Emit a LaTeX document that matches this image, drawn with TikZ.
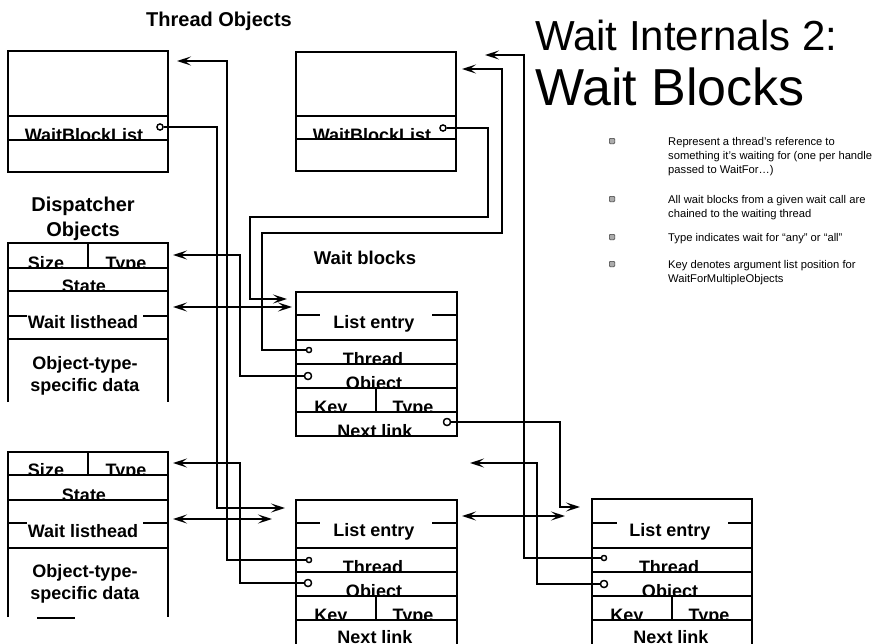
\documentclass[tikz,border=0pt]{standalone}
\usepackage{fontspec}
\setmainfont{Liberation Sans}
\usetikzlibrary{arrows.meta}
\tikzset{
  boxline/.style={line width=1.6pt},
  conn/.style={line width=1.5pt},
  tipA/.tip={Stealth[length=14pt,width=9pt,inset=6pt]},
  arr/.style={conn,-tipA},
  darr/.style={conn,tipA-tipA},
  port/.style={circle,draw,line width=1.3pt,fill=white,inner sep=0pt,minimum size=5pt},
  bigport/.style={port,minimum size=7pt},
  ftext/.style={font=\fontsize{18}{20}\selectfont\bfseries,inner sep=0pt,anchor=base},
  head/.style={font=\fontsize{20}{22}\selectfont\bfseries,inner sep=0pt,anchor=base},
  titletext/.style={inner sep=0pt,anchor=base west},
  btext/.style={font=\fontsize{11.2}{13}\selectfont,inner sep=0pt,anchor=base west},
  bul/.style={rectangle,rounded corners=1pt,fill=gray!65,draw=gray!45!black,line width=0.5pt,minimum size=5.5pt,inner sep=0pt},
}
% name, x, baseline y, clip bottom y, text
\newcommand\fld[5]{\begin{scope}\clip (0,0) rectangle (876,#4);\node[ftext] (#1) at (#2,#3) {#5};\end{scope}}
\begin{document}
\begin{tikzpicture}[x=1pt,y=-1pt]
\useasboundingbox (0,0) rectangle (876,643);

% ---------- headings ----------
\node[head] (hthr) at (219,26) {Thread Objects};
\node[head] (hdisp1) at (83,211) {Dispatcher};
\node[head] (hdisp2) at (83,236) {Objects};
\node[head,font=\fontsize{18.5}{20}\selectfont\bfseries] (hwb) at (365,264) {Wait blocks};

% ---------- title & bullets ----------
\node[titletext,font=\fontsize{42}{46}\selectfont] (title1) at (535,50) {Wait Internals 2:};
\node[titletext,font=\fontsize{52}{56}\selectfont] (title2) at (535,105) {Wait Blocks};
\node[bul] (b1) at (612,141) {};
\node[bul] (b2) at (612,199) {};
\node[bul] (b3) at (612,237) {};
\node[bul] (b4) at (612,264) {};
\node[btext] (l1a) at (668,145) {Represent a thread’s reference to};
\node[btext] (l1b) at (668,159) {something it’s waiting for (one per handle};
\node[btext] (l1c) at (668,173) {passed to WaitFor…)};
\node[btext] (l2a) at (668,203) {All wait blocks from a given wait call are};
\node[btext] (l2b) at (668,217) {chained to the waiting thread};
\node[btext] (l3a) at (668,241) {Type indicates wait for “any” or “all”};
\node[btext] (l4a) at (668,268) {Key denotes argument list position for};
\node[btext] (l4b) at (668,282) {WaitForMultipleObjects};

% ---------- field texts ----------
\fld{t1wbl}{84}{141}{140}{WaitBlockList}
\fld{t2wbl}{372}{141}{139}{WaitBlockList}

\fld{d1size}{46}{269}{268}{Size}
\fld{d1type}{126}{269}{268}{Type}
\fld{d1state}{84}{292}{291}{State}
\fld{d1wl}{83}{328}{339}{Wait listhead}
\fld{d1o1}{85}{369}{402}{Object-type-}
\fld{d1o2}{85}{391}{402}{specific data}

\fld{d2size}{46}{476}{475}{Size}
\fld{d2type}{126}{476}{475}{Type}
\fld{d2state}{84}{501}{500}{State}
\fld{d2wl}{83}{537}{548}{Wait listhead}
\fld{d2o1}{85}{577}{617}{Object-type-}
\fld{d2o2}{85}{599}{617}{specific data}

\fld{w1le}{374}{328}{340}{List entry}
\fld{w1th}{373}{365}{364}{Thread}
\fld{w1ob}{374}{389}{388}{Object}
\fld{w1key}{331}{413}{412}{Key}
\fld{w1typ}{413}{413}{412}{Type}
\fld{w1nl}{375}{437}{436}{Next link}

\fld{w2le}{374}{536}{548}{List entry}
\fld{w2th}{373}{573}{572}{Thread}
\fld{w2ob}{374}{597}{596}{Object}
\fld{w2key}{331}{621}{620}{Key}
\fld{w2typ}{413}{621}{620}{Type}
\fld{w2nl}{375}{643}{644}{Next link}

\fld{w3le}{670}{536}{548}{List entry}
\fld{w3th}{669}{573}{572}{Thread}
\fld{w3ob}{670}{597}{596}{Object}
\fld{w3key}{627}{621}{620}{Key}
\fld{w3typ}{709}{621}{620}{Type}
\fld{w3nl}{671}{643}{644}{Next link}

% ---------- thread objects ----------
\draw[boxline] (8,51) rectangle (168,172);
\draw[boxline] (8,116) -- (168,116) (8,140) -- (168,140);
\draw[boxline] (296,52) rectangle (456,171);
\draw[boxline] (296,116) -- (456,116) (296,139) -- (456,139);

% ---------- dispatcher objects ----------
\draw[boxline] (8,402) -- (8,243) -- (168,243) -- (168,402);
\draw[boxline] (8,268) -- (168,268) (88,243) -- (88,268)
               (8,291) -- (168,291)
               (8,316) -- (27,316) (143,316) -- (168,316)
               (8,339) -- (168,339);
\draw[boxline] (8,617) -- (8,452) -- (168,452) -- (168,617);
\draw[boxline] (8,475) -- (168,475) (88,452) -- (88,475)
               (8,500) -- (168,500)
               (8,523) -- (27,523) (143,523) -- (168,523)
               (8,548) -- (168,548);
\draw[boxline] (37,618) -- (75,618);

% ---------- wait blocks ----------
\draw[boxline] (296,292) rectangle (457,436);
\draw[boxline] (296,315) -- (320,315) (432,315) -- (457,315)
               (296,340) -- (457,340) (296,364) -- (457,364)
               (296,388) -- (457,388) (296,412) -- (457,412)
               (376,388) -- (376,412);
\draw[boxline] (296,648) -- (296,500) -- (457,500) -- (457,648);
\draw[boxline] (296,523) -- (320,523) (432,523) -- (457,523)
               (296,548) -- (457,548) (296,572) -- (457,572)
               (296,596) -- (457,596) (296,620) -- (457,620)
               (376,596) -- (376,620);
\draw[boxline] (592,648) -- (592,499) -- (752,499) -- (752,648);
\draw[boxline] (592,523) -- (617,523) (728,523) -- (752,523)
               (592,548) -- (752,548) (592,572) -- (752,572)
               (592,596) -- (752,596) (592,620) -- (752,620)
               (672,596) -- (672,620);

% ---------- ports ----------
\node[port,minimum size=6pt] (pt1) at (160,127) {};
\node[port,minimum size=6pt] (pt2) at (443,128) {};
\node[port] (pw1t) at (309,350) {};
\node[bigport] (pw1o) at (308,376) {};
\node[bigport] (pw1n) at (447,422) {};
\node[port] (pw2t) at (309,560) {};
\node[bigport] (pw2o) at (308,583) {};
\node[port] (pw3t) at (604,558) {};
\node[bigport] (pw3o) at (604,584) {};

% ---------- arrow ends ----------
\coordinate (e1) at (285,508);
\coordinate (e2) at (177,61);
\coordinate (e3) at (287,299);
\coordinate (e4) at (462,69);
\coordinate (e5) at (173,255);
\coordinate (e6a) at (173,307);
\coordinate (e6b) at (292,307);
\coordinate (e7) at (580,507);
\coordinate (e8) at (173,463);
\coordinate (e9a) at (173,519);
\coordinate (e9b) at (272,519);
\coordinate (e10a) at (462,516);
\coordinate (e10b) at (565,516);
\coordinate (e11) at (485,55);
\coordinate (e12) at (470,463);

% ---------- connectors ----------
\draw[arr] (pt1.east) -- (217,127) -- (217,508) -- (e1);
\draw[arr] (pw2t.west) -- (227,560) -- (227,61) -- (e2);
\draw[arr] (pt2.east) -- (488,128) -- (488,217) -- (250,217) -- (250,299) -- (e3);
\draw[arr] (pw1t.west) -- (262,350) -- (262,233) -- (502,233) -- (502,69) -- (e4);
\draw[arr] (pw1o.west) -- (240,376) -- (240,255) -- (e5);
\draw[darr] (e6a) -- (e6b);
\draw[arr] (pw1n.east) -- (560,422) -- (560,507) -- (e7);
\draw[arr] (pw2o.west) -- (240,583) -- (240,463) -- (e8);
\draw[darr] (e9a) -- (e9b);
\draw[darr] (e10a) -- (e10b);
\draw[arr] (pw3t.west) -- (524,558) -- (524,55) -- (e11);
\draw[arr] (pw3o.west) -- (537,584) -- (537,463) -- (e12);

% redraw ports on top
\node[port,minimum size=6pt] at (pt1) {};
\node[port,minimum size=6pt] at (pt2) {};
\node[port] at (pw1t) {};
\node[bigport] at (pw1o) {};
\node[bigport] at (pw1n) {};
\node[port] at (pw2t) {};
\node[bigport] at (pw2o) {};
\node[port] at (pw3t) {};
\node[bigport] at (pw3o) {};
\end{tikzpicture}
\end{document}
